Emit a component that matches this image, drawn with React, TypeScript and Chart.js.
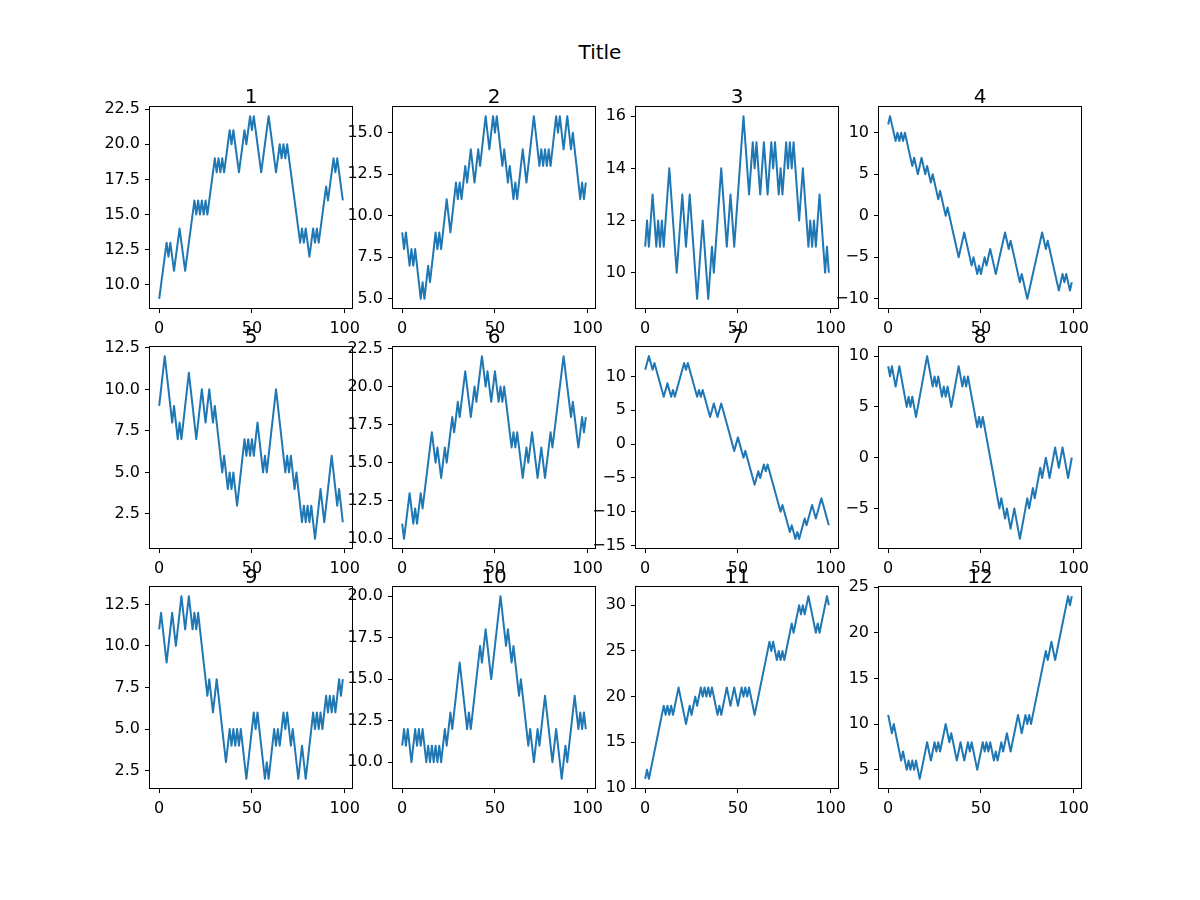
import React, { useEffect, useRef } from "react";
import { Chart, registerables } from "chart.js";

Chart.register(...registerables);

// ---------- data ----------
const figureTitle = "Title";
const panelTitles = ["1", "2", "3", "4", "5", "6", "7", "8", "9", "10", "11", "12"];
const xTickLabels = ["0", "50", "100"];

const series1 = [9,10,11,12,13,12,13,12,11,12, 13,14,13,12,11,12,13,14,15,16, 15,16,15,16,15,16,15,16,17,18, 19,18,19,18,19,18,19,20,21,20, 21,20,19,18,19,20,21,20,21,22, 21,22,21,20,19,18,19,20,21,22, 21,20,19,18,19,20,19,20,19,20, 19,18,17,16,15,14,13,14,13,14, 13,12,13,14,13,14,13,14,15,16, 17,16,17,18,19,18,19,18,17,16];
const series2 = [9,8,9,8,7,8,7,8,7,6, 5,6,5,6,7,6,7,8,9,8, 9,8,9,10,11,10,9,10,11,12, 11,12,11,12,13,12,13,14,13,12, 13,14,13,14,15,16,15,14,15,16, 15,16,15,14,13,14,13,12,13,12, 11,12,11,12,13,14,13,12,13,14, 15,16,15,14,13,14,13,14,13,14, 13,14,15,16,15,16,15,14,15,16, 15,14,15,14,13,12,11,12,11,12];
const series3 = [11,12,11,12,13,12,11,12,11,12, 11,12,13,14,13,12,11,10,11,12, 13,12,11,12,13,12,11,10,9,10, 11,12,11,10,9,10,11,10,11,12, 13,14,13,12,11,12,13,12,11,12, 13,14,15,16,15,14,13,14,15,14, 15,14,13,14,15,14,13,14,15,14, 15,14,13,14,13,14,15,14,15,14, 15,14,13,12,13,14,13,12,11,12, 11,12,11,12,13,12,11,10,11,10];
const series4 = [11,12,11,10,9,10,9,10,9,10, 9,8,7,6,7,6,5,6,7,6, 5,6,5,4,5,4,3,2,3,2, 1,0,1,0,-1,-2,-3,-4,-5,-4, -3,-2,-3,-4,-5,-6,-5,-6,-7,-6, -7,-6,-5,-6,-5,-4,-5,-6,-7,-6, -5,-4,-3,-2,-3,-4,-3,-4,-5,-6, -7,-8,-7,-8,-9,-10,-9,-8,-7,-6, -5,-4,-3,-2,-3,-4,-3,-4,-5,-6, -7,-8,-9,-8,-7,-8,-7,-8,-9,-8];
const series5 = [9,10,11,12,11,10,9,8,9,8, 7,8,7,8,9,10,11,10,9,8, 7,8,9,10,9,8,9,10,9,8, 9,8,7,6,5,6,5,4,5,4, 5,4,3,4,5,6,7,6,7,6, 7,6,7,8,7,6,5,6,5,6, 7,8,9,10,9,8,7,6,5,6, 5,6,5,4,5,4,3,2,3,2, 3,2,3,2,1,2,3,4,3,2, 3,4,5,6,5,4,3,4,3,2];
const series6 = [11,10,11,12,13,12,11,12,11,12, 13,12,13,14,15,16,17,16,15,16, 15,14,15,16,15,16,17,18,17,18, 19,18,19,20,21,20,19,18,19,20, 19,20,21,22,21,20,21,20,19,20, 21,20,19,20,19,20,19,18,17,16, 17,16,17,16,15,14,15,16,15,16, 17,16,15,14,15,16,15,14,15,16, 17,16,17,18,19,20,21,22,21,20, 19,18,19,18,17,16,17,18,17,18];
const series7 = [11,12,13,12,11,12,11,10,9,8, 7,8,9,8,7,8,7,8,9,10, 11,12,11,12,11,10,9,8,7,8, 7,8,7,6,5,4,5,6,5,4, 5,6,5,4,3,2,1,0,-1,0, 1,0,-1,-2,-1,-2,-3,-4,-5,-6, -5,-4,-5,-4,-3,-4,-3,-4,-5,-6, -7,-8,-9,-10,-9,-10,-11,-12,-13,-12, -13,-14,-13,-14,-13,-12,-11,-12,-11,-10, -9,-10,-11,-10,-9,-8,-9,-10,-11,-12];
const series8 = [9,8,9,8,7,8,9,8,7,6, 5,6,5,6,5,4,5,6,7,8, 9,10,9,8,7,8,7,8,7,6, 7,6,7,6,5,6,7,8,9,8, 7,8,7,8,7,6,5,4,3,4, 3,4,3,2,1,0,-1,-2,-3,-4, -5,-4,-5,-6,-5,-6,-7,-6,-5,-6, -7,-8,-7,-6,-5,-4,-5,-4,-3,-4, -3,-2,-1,-2,-1,0,-1,-2,-1,0, 1,0,-1,0,1,0,-1,-2,-1,0];
const series9 = [11,12,11,10,9,10,11,12,11,10, 11,12,13,12,11,12,13,12,11,12, 11,12,11,10,9,8,7,8,7,6, 7,8,7,6,5,4,3,4,5,4, 5,4,5,4,5,4,3,2,3,4, 5,6,5,6,5,4,3,2,3,2, 3,4,5,4,5,4,5,6,5,6, 5,4,5,4,3,2,3,4,3,2, 3,4,5,6,5,6,5,6,5,6, 7,6,7,6,7,6,7,8,7,8];
const series10 = [11,12,11,12,11,10,11,12,11,12, 11,12,11,10,11,10,11,10,11,10, 11,10,11,12,11,12,13,12,13,14, 15,16,15,14,13,12,13,12,13,14, 15,16,17,16,17,18,17,16,15,16, 17,18,19,20,19,18,17,18,17,16, 17,16,15,14,15,14,13,12,11,12, 11,10,11,12,11,12,13,14,13,12, 11,10,11,12,11,10,9,10,11,10, 11,12,13,14,13,12,13,12,13,12];
const series11 = [11,12,11,12,13,14,15,16,17,18, 19,18,19,18,19,18,19,20,21,20, 19,18,17,18,19,18,19,20,19,20, 21,20,21,20,21,20,21,20,19,18, 19,18,19,20,21,20,19,20,21,20, 19,20,21,20,21,20,21,20,19,18, 19,20,21,22,23,24,25,26,25,26, 25,24,25,24,25,24,25,26,27,28, 27,28,29,30,29,30,29,30,31,30, 29,28,27,28,27,28,29,30,31,30];
const series12 = [11,10,9,10,9,8,7,6,7,6, 5,6,5,6,5,6,5,4,5,6, 7,8,7,6,7,8,7,8,7,8, 9,10,9,8,9,8,7,6,7,8, 7,6,7,8,7,8,7,6,5,6, 7,8,7,8,7,8,7,6,7,6, 7,8,7,8,9,8,7,8,9,10, 11,10,9,10,11,10,11,10,11,12, 13,14,15,16,17,18,17,18,19,18, 17,18,19,20,21,22,23,24,23,24];

const yTicks1 = ["10.0", "12.5", "15.0", "17.5", "20.0", "22.5"];
const yTicks2 = ["5.0", "7.5", "10.0", "12.5", "15.0"];
const yTicks3 = ["10", "12", "14", "16"];
const yTicks4 = ["−10", "−5", "0", "5", "10"];
const yTicks5 = ["2.5", "5.0", "7.5", "10.0", "12.5"];
const yTicks6 = ["10.0", "12.5", "15.0", "17.5", "20.0", "22.5"];
const yTicks7 = ["−15", "−10", "−5", "0", "5", "10"];
const yTicks8 = ["−5", "0", "5", "10"];
const yTicks9 = ["2.5", "5.0", "7.5", "10.0", "12.5"];
const yTicks10 = ["10.0", "12.5", "15.0", "17.5", "20.0"];
const yTicks11 = ["10", "15", "20", "25", "30"];
const yTicks12 = ["5", "10", "15", "20", "25"];

const allSeries = [series1, series2, series3, series4, series5, series6, series7, series8, series9, series10, series11, series12];
const allYTicks = [yTicks1, yTicks2, yTicks3, yTicks4, yTicks5, yTicks6, yTicks7, yTicks8, yTicks9, yTicks10, yTicks11, yTicks12];

// ---------- layout ----------
const FONT = '"DejaVu Sans", "Liberation Sans", sans-serif';
const colLefts = [150, 393, 636, 879];
const rowTops = [107, 347, 587];
const AX_W = 202;
const AX_H = 201;
const PAD_L = 60;
const PAD_T = 40;
const PAD_R = 30;
const PAD_B = 35;
const LINE_COLOR = "#1f77b4";

const parseLabel = (s: string) => parseFloat(s.replace("−", "-"));

function Panel({ index }: { index: number }) {
  const ref = useRef<HTMLCanvasElement | null>(null);
  const values = allSeries[index];
  const yLabels = allYTicks[index];
  const title = panelTitles[index];
  const col = index % 4;
  const row = Math.floor(index / 4);
  const left = colLefts[col] - PAD_L;
  const top = rowTops[row] - PAD_T;
  const width = PAD_L + AX_W + PAD_R;
  const height = PAD_T + AX_H + PAD_B;

  useEffect(() => {
    if (!ref.current) return;
    const n = values.length;
    const lo = Math.min(...values);
    const hi = Math.max(...values);
    const yPad = 0.05 * (hi - lo);
    const xPad = 0.05 * (n - 1);
    const yVals = yLabels.map(parseLabel);
    const xVals = xTickLabels.map(parseLabel);

    const framePlugin = {
      id: "frameAndTitle",
      afterDraw(chart: any) {
        const { ctx, chartArea: a } = chart;
        ctx.save();
        ctx.strokeStyle = "#000";
        ctx.lineWidth = 1;
        ctx.strokeRect(a.left - 0.5, a.top - 0.5, a.right - a.left + 1, a.bottom - a.top + 1);
        ctx.fillStyle = "#000";
        ctx.font = `20px ${FONT}`;
        ctx.textAlign = "center";
        ctx.textBaseline = "alphabetic";
        ctx.fillText(title, (a.left + a.right) / 2, a.top - 4);
        ctx.restore();
      },
    };

    const tickFont = { family: FONT, size: 16 };
    const grid = {
      display: true,
      drawOnChartArea: false,
      drawTicks: true,
      tickLength: 5,
      tickColor: "#000",
      tickWidth: 1,
    };

    const chart = new Chart(ref.current, {
      type: "line",
      data: {
        datasets: [
          {
            data: values.map((v, i) => ({ x: i, y: v })),
            borderColor: LINE_COLOR,
            borderWidth: 2,
            pointRadius: 0,
            fill: false,
            tension: 0,
            borderJoinStyle: "round",
          },
        ],
      },
      options: {
        animation: false,
        responsive: false,
        events: [],
        layout: {
          padding: { left: 0, top: PAD_T, right: PAD_R, bottom: 0 },
          autoPadding: false,
        },
        plugins: {
          legend: { display: false },
          tooltip: { enabled: false },
          title: { display: false },
        },
        scales: {
          x: {
            type: "linear",
            min: -xPad,
            max: n - 1 + xPad,
            afterBuildTicks: (s: any) => {
              s.ticks = xVals.map((v) => ({ value: v }));
            },
            afterFit: (s: any) => {
              s.height = PAD_B;
            },
            ticks: {
              font: tickFont,
              color: "#000",
              padding: 6,
              maxRotation: 0,
              autoSkip: false,
              callback: (_v: any, i: number) => xTickLabels[i],
            },
            grid,
            border: { display: false },
          },
          y: {
            type: "linear",
            min: lo - yPad,
            max: hi + yPad,
            afterBuildTicks: (s: any) => {
              s.ticks = yVals.map((v) => ({ value: v }));
            },
            afterFit: (s: any) => {
              s.width = PAD_L;
            },
            ticks: {
              font: tickFont,
              color: "#000",
              padding: 5,
              autoSkip: false,
              callback: (_v: any, i: number) => yLabels[i],
            },
            grid,
            border: { display: false },
          },
        },
      } as any,
      plugins: [framePlugin],
    });
    return () => chart.destroy();
  }, [index]);

  return (
    <canvas
      ref={ref}
      width={width}
      height={height}
      style={{ position: "absolute", left, top, width, height }}
    />
  );
}

export default function App() {
  return (
    <div
      style={{
        position: "absolute",
        left: 0,
        top: 0,
        width: 1200,
        height: 900,
        background: "#fff",
        overflow: "hidden",
      }}
    >
      <div
        style={{
          position: "absolute",
          left: 0,
          top: 40,
          width: 1200,
          textAlign: "center",
          fontFamily: FONT,
          fontSize: 20,
          lineHeight: "24px",
          color: "#000",
        }}
      >
        {figureTitle}
      </div>
      {panelTitles.map((_, i) => (
        <Panel key={i} index={i} />
      ))}
    </div>
  );
}
